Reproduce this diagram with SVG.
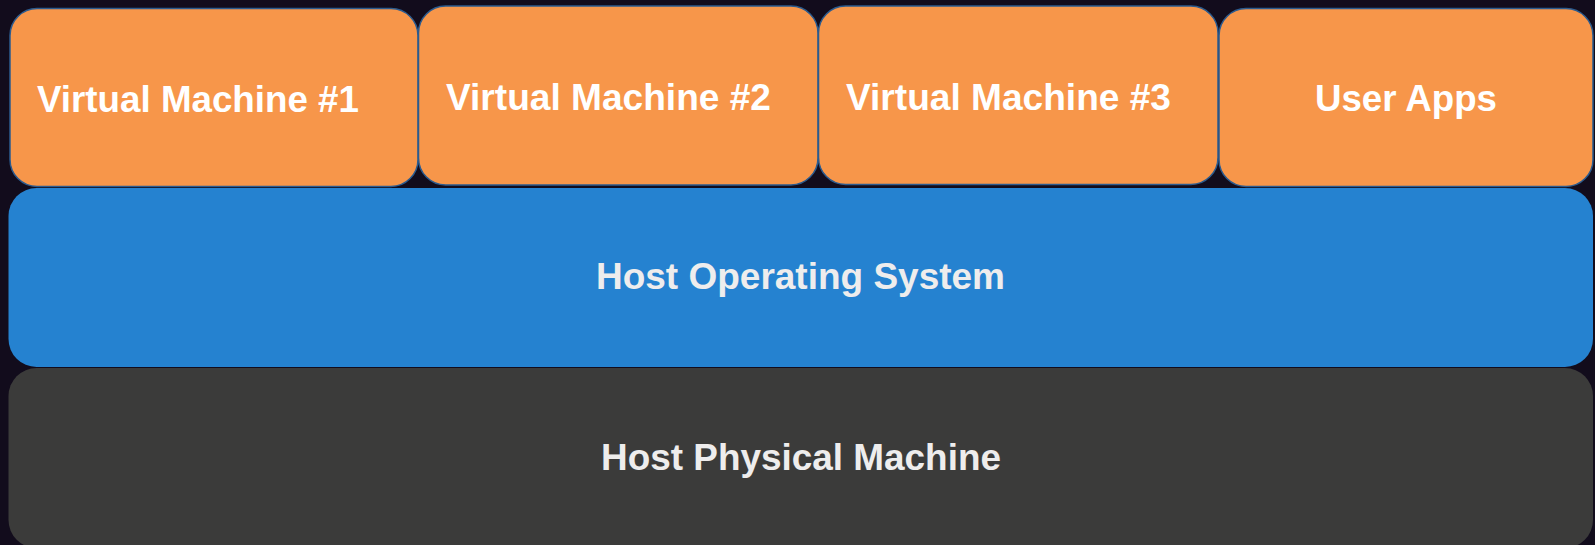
<svg xmlns="http://www.w3.org/2000/svg" width="1595" height="545" viewBox="0 0 1595 545">
<style>
.vm{fill:#f7964a;stroke:#2b5b8f;stroke-width:1.5}
.os{fill:#2582d0}
.hw{fill:#3b3b3a}
.t{font-family:"Liberation Sans",Arial,sans-serif;font-weight:bold}
.tw{fill:#ffffff;font-size:37px}
.tl{fill:#eeeded;font-size:36px}
</style>
<rect x="0" y="0" width="1595" height="545" fill="#120c1c"/>
<g id="host-physical-machine">
<rect class="hw" x="8.5" y="368" width="1584.5" height="180" rx="28" ry="28"/>
<text class="t tl" x="601" y="469.5" textLength="400" lengthAdjust="spacingAndGlyphs">Host Physical Machine</text>
</g>
<g id="host-operating-system">
<rect class="os" x="8.5" y="188" width="1584.5" height="179" rx="28" ry="28"/>
<text class="t tl" x="596" y="288.5" textLength="409" lengthAdjust="spacingAndGlyphs">Host Operating System</text>
</g>
<g id="vm1">
<rect class="vm" x="10" y="8.5" width="408" height="178" rx="27" ry="27"/>
<text class="t tw" x="37" y="112" textLength="322" lengthAdjust="spacingAndGlyphs">Virtual Machine #1</text>
</g>
<g id="vm2">
<rect class="vm" x="418.5" y="6" width="399.5" height="179" rx="27" ry="27"/>
<text class="t tw" x="446" y="110" textLength="325" lengthAdjust="spacingAndGlyphs">Virtual Machine #2</text>
</g>
<g id="vm3">
<rect class="vm" x="818.5" y="6" width="399.5" height="178.5" rx="27" ry="27"/>
<text class="t tw" x="846" y="110" textLength="325" lengthAdjust="spacingAndGlyphs">Virtual Machine #3</text>
</g>
<g id="user-apps">
<rect class="vm" x="1219" y="8.5" width="374" height="178" rx="27" ry="27"/>
<text class="t tw" x="1315" y="111" textLength="182" lengthAdjust="spacingAndGlyphs">User Apps</text>
</g>
<g id="connectors"/>
</svg>
